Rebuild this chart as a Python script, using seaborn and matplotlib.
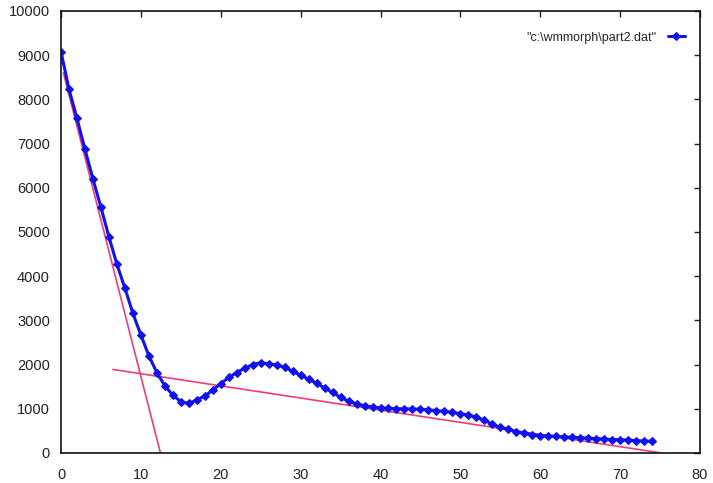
import matplotlib
matplotlib.use("Agg")
import matplotlib.pyplot as plt
import seaborn as sns
import pandas as pd

sns.set_style("white")
plt.rcParams['font.family'] = ['Liberation Sans', 'DejaVu Sans']

x_vals = list(range(0, 75))
y_vals = [9080, 8230, 7570, 6870, 6200, 5560, 4890, 4270, 3730, 3160,
          2670, 2200, 1820, 1520, 1310, 1160, 1120, 1200, 1290, 1420,
          1570, 1710, 1820, 1920, 2000, 2040, 2020, 1990, 1940, 1850,
          1760, 1670, 1580, 1470, 1370, 1260, 1170, 1110, 1070, 1040,
          1020, 1010, 1000, 1000, 995, 990, 975, 960, 940, 920,
          890, 860, 810, 740, 650, 580, 535, 485, 445, 415,
          395, 385, 375, 365, 355, 345, 335, 325, 315, 305,
          300, 290, 280, 270, 265]

fit1_x = [0.3, 12.45]
fit1_y = [8600, 0]
fit2_x = [6.5, 75.2]
fit2_y = [1890, 0]

series_label = '"c:\\wmmorph\\part2.dat"'
x_ticks = [0, 10, 20, 30, 40, 50, 60, 70, 80]
y_ticks = [0, 1000, 2000, 3000, 4000, 5000, 6000, 7000, 8000, 9000, 10000]

fig = plt.figure(figsize=(7.13, 4.83), dpi=100)
ax = fig.add_axes([61/713, 30/483, 639/713, 442/483])

pink = '#f03c78'
sns.lineplot(x=fit1_x, y=fit1_y, ax=ax, color=pink, linewidth=1.2, legend=False)
sns.lineplot(x=fit2_x, y=fit2_y, ax=ax, color=pink, linewidth=1.2, legend=False)

df = pd.DataFrame({'x': x_vals, 'y': y_vals})
sns.lineplot(data=df, x='x', y='y', ax=ax, color='#1010f0', linewidth=2.2,
             marker='D', markersize=4.5, markeredgecolor='#1010f0',
             label=series_label)

ax.set_xlim(0, 80)
ax.set_ylim(0, 10000)
ax.set_xticks(x_ticks)
ax.set_yticks(y_ticks)
ax.set_xlabel('')
ax.set_ylabel('')
ax.tick_params(direction='in', length=4, width=1, top=True, right=True,
               labelsize=10.5, colors='#222222')
ax.tick_params(axis='x', labeltop=False, pad=10.5)
ax.tick_params(axis='y', labelright=False, pad=8)
for s in ax.spines.values():
    s.set_color('#111111')
    s.set_linewidth(1.2)

leg = ax.legend(loc='upper right', bbox_to_anchor=(1.002, 0.99),
                frameon=False, markerfirst=False,
                fontsize=9, handlelength=1.4, handletextpad=0.9,
                borderaxespad=0.9)

fig.savefig('out.png', dpi=100)
